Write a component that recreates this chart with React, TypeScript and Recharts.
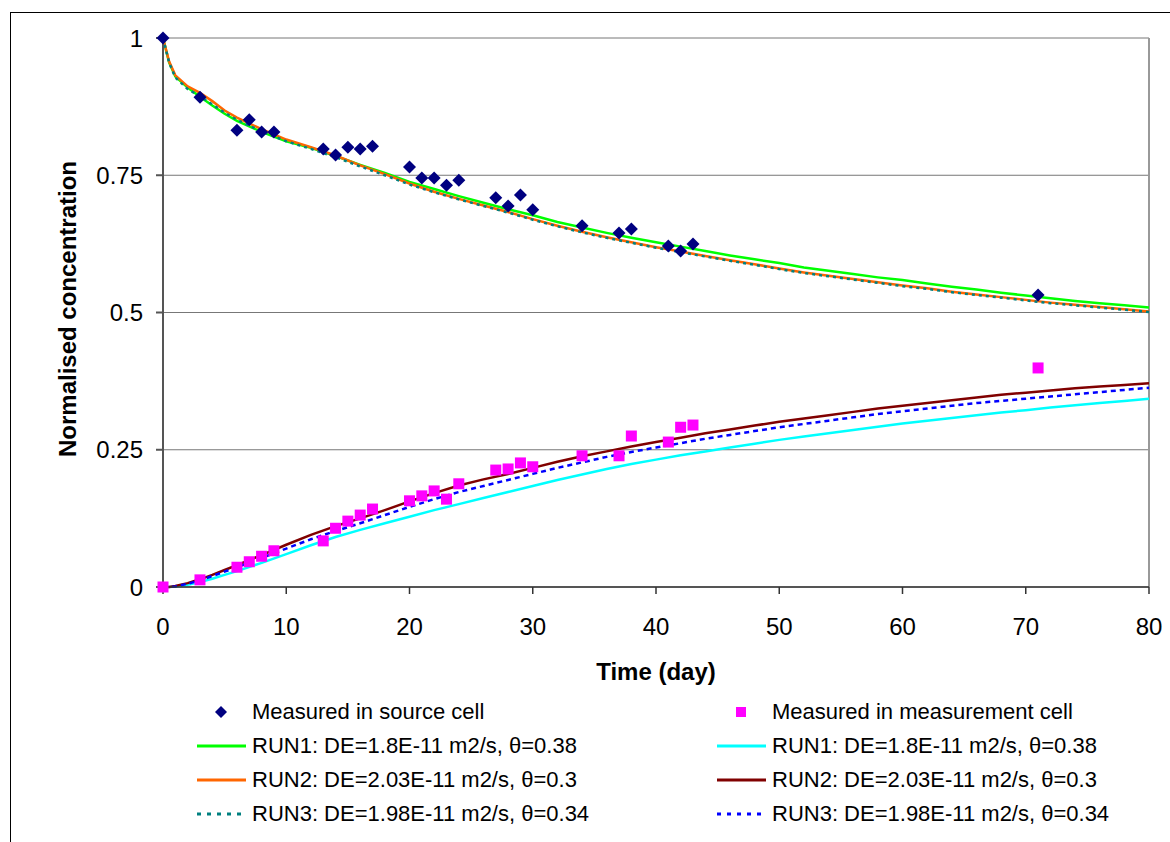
import React from "react"
import {
  ComposedChart,
  Line,
  Scatter,
  XAxis,
  YAxis,
  CartesianGrid,
  ReferenceLine
} from "recharts"

// model output sample times (day)
const days = [0, 0.5, 1, 2, 3, 4, 5, 6, 8, 10, 12, 14, 16, 18, 20, 22, 24, 26, 28, 30, 32, 34, 36, 38, 40, 42, 44, 46, 48, 50, 52, 54, 56, 58, 60, 62, 64, 66, 68, 70, 72, 74, 76, 78, 80]

// source cell, model runs
const srcRun1 = [1, 0.955, 0.93, 0.91, 0.893, 0.877, 0.862, 0.849, 0.829, 0.812, 0.8, 0.785, 0.769, 0.754, 0.738, 0.725, 0.712, 0.7, 0.688, 0.677, 0.665, 0.655, 0.645, 0.636, 0.628, 0.62, 0.612, 0.604, 0.597, 0.59, 0.582, 0.576, 0.57, 0.564, 0.559, 0.553, 0.547, 0.542, 0.536, 0.531, 0.526, 0.521, 0.517, 0.513, 0.509]
const srcRun2 = [1, 0.957, 0.932, 0.912, 0.9, 0.885, 0.868, 0.855, 0.834, 0.815, 0.801, 0.786, 0.768, 0.752, 0.735, 0.72, 0.707, 0.695, 0.683, 0.67, 0.658, 0.647, 0.637, 0.628, 0.619, 0.611, 0.603, 0.595, 0.588, 0.58, 0.573, 0.567, 0.561, 0.555, 0.549, 0.544, 0.538, 0.533, 0.528, 0.523, 0.518, 0.514, 0.51, 0.506, 0.502]
const srcRun3 = [1, 0.955, 0.928, 0.907, 0.894, 0.879, 0.864, 0.851, 0.83, 0.812, 0.798, 0.783, 0.766, 0.75, 0.733, 0.719, 0.706, 0.694, 0.682, 0.669, 0.657, 0.646, 0.636, 0.627, 0.618, 0.61, 0.602, 0.594, 0.587, 0.579, 0.572, 0.566, 0.56, 0.554, 0.548, 0.543, 0.537, 0.532, 0.527, 0.522, 0.517, 0.513, 0.509, 0.505, 0.501]

// measurement cell, model runs
const measRun1 = [0, 0, 0.001, 0.004, 0.009, 0.015, 0.022, 0.029, 0.044, 0.06, 0.076, 0.091, 0.104, 0.116, 0.128, 0.14, 0.151, 0.162, 0.173, 0.184, 0.195, 0.205, 0.215, 0.224, 0.232, 0.24, 0.247, 0.254, 0.261, 0.268, 0.274, 0.28, 0.286, 0.292, 0.298, 0.303, 0.308, 0.313, 0.318, 0.322, 0.327, 0.331, 0.335, 0.339, 0.343]
const measRun2 = [0, 0, 0.002, 0.007, 0.014, 0.022, 0.031, 0.04, 0.058, 0.077, 0.095, 0.111, 0.125, 0.14, 0.156, 0.171, 0.185, 0.196, 0.206, 0.217, 0.228, 0.238, 0.247, 0.256, 0.264, 0.272, 0.28, 0.287, 0.294, 0.301, 0.307, 0.313, 0.319, 0.325, 0.33, 0.335, 0.34, 0.345, 0.35, 0.354, 0.358, 0.362, 0.365, 0.368, 0.371]
const measRun3 = [0, 0, 0.001, 0.006, 0.012, 0.02, 0.028, 0.036, 0.053, 0.07, 0.087, 0.102, 0.116, 0.131, 0.146, 0.16, 0.173, 0.184, 0.195, 0.206, 0.217, 0.227, 0.237, 0.246, 0.254, 0.262, 0.27, 0.277, 0.284, 0.291, 0.297, 0.303, 0.309, 0.315, 0.32, 0.325, 0.33, 0.335, 0.339, 0.343, 0.347, 0.351, 0.355, 0.359, 0.363]

// measurements
const measuredDays = [0, 3, 6, 7, 8, 9, 13, 14, 15, 16, 17, 20, 21, 22, 23, 24, 27, 28, 29, 30, 34, 37, 38, 41, 42, 43, 71]
const sourceMeasured = [1, 0.892, 0.832, 0.851, 0.829, 0.829, 0.798, 0.787, 0.801, 0.798, 0.803, 0.765, 0.745, 0.745, 0.732, 0.741, 0.709, 0.694, 0.714, 0.687, 0.658, 0.645, 0.652, 0.621, 0.612, 0.625, 0.532]
const cellMeasured = [0, 0.013, 0.036, 0.046, 0.056, 0.066, 0.084, 0.107, 0.12, 0.131, 0.142, 0.157, 0.166, 0.175, 0.16, 0.188, 0.213, 0.215, 0.226, 0.219, 0.239, 0.239, 0.275, 0.264, 0.291, 0.295, 0.399]

const xTicks = [0, 10, 20, 30, 40, 50, 60, 70, 80]
const yTicks = [0, 0.25, 0.5, 0.75, 1]

const FONT = '"Liberation Sans", Arial, sans-serif'

const rows = days.map((t, i) => ({
  t,
  s1: srcRun1[i],
  s2: srcRun2[i],
  s3: srcRun3[i],
  m1: measRun1[i],
  m2: measRun2[i],
  m3: measRun3[i]
}))

const sourcePoints = measuredDays.map((t, i) => ({ t, v: sourceMeasured[i] }))
const cellPoints = measuredDays.map((t, i) => ({ t, v: cellMeasured[i] }))

const Diamond = (props: any) => {
  const { cx, cy } = props
  const r = 6.5
  return (
    <polygon
      points={`${cx},${cy - r} ${cx + r},${cy} ${cx},${cy + r} ${cx - r},${cy}`}
      fill="#000080"
    />
  )
}

const Square = (props: any) => {
  const { cx, cy } = props
  const r = 5.5
  return <rect x={cx - r} y={cy - r} width={r * 2} height={r * 2} fill="#FF00FF" />
}

const fmtY = (v: number) => String(v)

type LegendItem = {
  label: string
  kind: "diamond" | "square" | "line"
  color: string
  dash?: string
}

const leftLegend: LegendItem[] = [
  { label: "Measured in source cell", kind: "diamond", color: "#000080" },
  { label: "RUN1: DE=1.8E-11 m2/s, θ=0.38", kind: "line", color: "#00FF00" },
  { label: "RUN2: DE=2.03E-11 m2/s, θ=0.3", kind: "line", color: "#FF6600" },
  { label: "RUN3: DE=1.98E-11 m2/s, θ=0.34", kind: "line", color: "#008080", dash: "4 6" }
]

const rightLegend: LegendItem[] = [
  { label: "Measured in measurement cell", kind: "square", color: "#FF00FF" },
  { label: "RUN1: DE=1.8E-11 m2/s, θ=0.38", kind: "line", color: "#00FFFF" },
  { label: "RUN2: DE=2.03E-11 m2/s, θ=0.3", kind: "line", color: "#800000" },
  { label: "RUN3: DE=1.98E-11 m2/s, θ=0.34", kind: "line", color: "#0000FF", dash: "4 6" }
]

function LegendColumn({ items, left }: { items: LegendItem[]; left: number }) {
  return (
    <div style={{ position: "absolute", left, top: 695 }}>
      {items.map((it, i) => (
        <div key={i} style={{ display: "flex", alignItems: "center", height: 34 }}>
          <svg width={50} height={20} style={{ marginRight: 5 }}>
            {it.kind === "diamond" && (
              <polygon points="24,4 30,10 24,16 18,10" fill={it.color} />
            )}
            {it.kind === "square" && <rect x={19} y={5} width={10} height={10} fill={it.color} />}
            {it.kind === "line" && (
              <line
                x1={0}
                y1={10}
                x2={49}
                y2={10}
                stroke={it.color}
                strokeWidth={3}
                strokeDasharray={it.dash}
              />
            )}
          </svg>
          <span style={{ fontFamily: FONT, fontSize: 22, color: "#000", whiteSpace: "nowrap" }}>
            {it.label}
          </span>
        </div>
      ))}
    </div>
  )
}

export default function App() {
  return (
    <div style={{ position: "absolute", left: 0, top: 0, width: 1170, height: 842, background: "#fff", overflow: "hidden" }}>
      <div
        style={{
          position: "absolute",
          left: 10,
          top: 12,
          width: 1200,
          height: 900,
          border: "1px solid #000"
        }}
      />
      <div style={{ position: "absolute", left: 0, top: 0 }}>
        <ComposedChart
          width={1170}
          height={700}
          data={rows}
          margin={{ top: 38, right: 21, left: 0, bottom: 2 }}
        >
          <CartesianGrid horizontal vertical={false} stroke="#777" strokeWidth={1} />
          <ReferenceLine x={80} stroke="#999" strokeWidth={2} />
          <XAxis
            dataKey="t"
            type="number"
            domain={[0, 80]}
            ticks={xTicks}
            interval={0}
            height={111}
            tickSize={7}
            tickMargin={24}
            stroke="#333"
            strokeWidth={1.5}
            tick={{ fontFamily: FONT, fontSize: 24, fill: "#000" }}
            label={{
              content: () => (
                <text
                  x={656}
                  y={680}
                  textAnchor="middle"
                  fontFamily={FONT}
                  fontSize={24}
                  fontWeight="bold"
                  fill="#000"
                >
                  Time (day)
                </text>
              )
            }}
          />
          <YAxis
            type="number"
            domain={[0, 1]}
            ticks={yTicks}
            width={163}
            tickSize={7}
            tickMargin={13}
            stroke="#555"
            strokeWidth={2}
            tickFormatter={fmtY}
            tick={{ fontFamily: FONT, fontSize: 24, fill: "#000" }}
            label={{
              content: () => (
                <text
                  x={67}
                  y={309}
                  transform="rotate(-90, 67, 309)"
                  textAnchor="middle"
                  dominantBaseline="central"
                  fontFamily={FONT}
                  fontSize={24}
                  fontWeight="bold"
                  fill="#000"
                >
                  Normalised concentration
                </text>
              )
            }}
          />
          <Line dataKey="s1" stroke="#00FF00" strokeWidth={2.5} dot={false} isAnimationActive={false} />
          <Line dataKey="s2" stroke="#FF6600" strokeWidth={2.5} dot={false} isAnimationActive={false} />
          <Line dataKey="s3" stroke="#008080" strokeWidth={2.5} strokeDasharray="3 4" dot={false} isAnimationActive={false} />
          <Line dataKey="m1" stroke="#00FFFF" strokeWidth={2.5} dot={false} isAnimationActive={false} />
          <Line dataKey="m2" stroke="#800000" strokeWidth={2.5} dot={false} isAnimationActive={false} />
          <Line dataKey="m3" stroke="#0000FF" strokeWidth={2.5} strokeDasharray="5 4" dot={false} isAnimationActive={false} />
          <Scatter data={sourcePoints} dataKey="v" shape={<Diamond />} isAnimationActive={false} />
          <Scatter data={cellPoints} dataKey="v" shape={<Square />} isAnimationActive={false} />
        </ComposedChart>
      </div>
      <LegendColumn items={leftLegend} left={197} />
      <LegendColumn items={rightLegend} left={717} />
    </div>
  )
}
